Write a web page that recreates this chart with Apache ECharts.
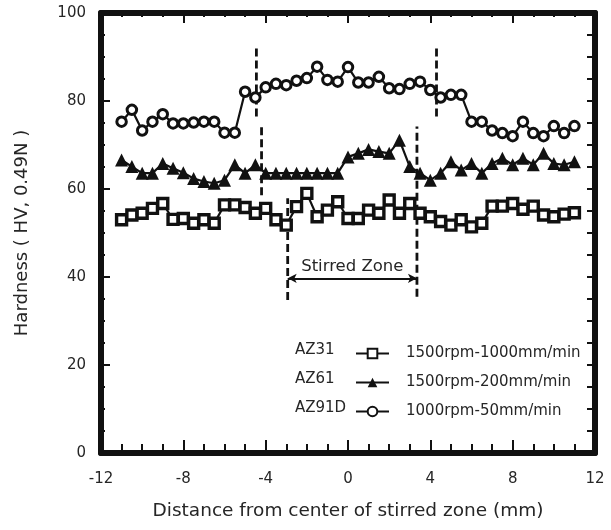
<!DOCTYPE html>
<html>
<head>
<meta charset="utf-8">
<script src="https://cdn.jsdelivr.net/npm/echarts@6/dist/echarts.min.js"></script>
<style>
  html, body { margin: 0; padding: 0; background: #fff; }
  #chart { width: 611px; height: 530px; }
</style>
</head>
<body>
<div id="chart"></div>
<script>
// distance from SZ centre (mm), one reading every 0.5 mm
const distance = [
  -11, -10.5, -10, -9.5, -9, -8.5, -8, -7.5, -7, -6.5, -6, -5.5, -5, -4.5, -4,
  -3.5, -3, -2.5, -2, -1.5, -1, -0.5, 0, 0.5, 1, 1.5, 2, 2.5, 3, 3.5,
  4, 4.5, 5, 5.5, 6, 6.5, 7, 7.5, 8, 8.5, 9, 9.5, 10, 10.5, 11
]

const alloys = ['AZ31', 'AZ61', 'AZ91D']
const conditions = ['1500rpm-1000mm/min', '1500rpm-200mm/min', '1000rpm-50mm/min']

const hvAZ31 = [
  53.0, 54.1, 54.5, 55.6, 56.7, 53.1, 53.3, 52.2, 53.0, 52.2, 56.4, 56.4, 55.8, 54.5, 55.6,
  53.0, 51.8, 56.0, 59.0, 53.7, 55.2, 57.1, 53.3, 53.3, 55.2, 54.5, 57.5, 54.5, 56.7, 54.5,
  53.7, 52.6, 51.8, 53.0, 51.4, 52.2, 56.1, 56.1, 56.7, 55.4, 56.1, 54.1, 53.7, 54.3, 54.6
]
const hvAZ61 = [
  66.6, 65.1, 63.6, 63.6, 65.8, 64.7, 63.7, 62.4, 61.7, 61.3, 62.0, 65.5, 63.6, 65.5, 63.6,
  63.6, 63.6, 63.6, 63.6, 63.6, 63.6, 63.6, 67.3, 68.1, 69.0, 68.5, 68.1, 71.1, 65.1, 63.6,
  62.0, 63.6, 66.2, 64.3, 65.8, 63.6, 65.8, 67.0, 65.5, 67.0, 65.5, 68.1, 65.8, 65.5, 66.2
]
const hvAZ91D = [
  75.3, 78.0, 73.3, 75.3, 77.0, 74.9, 74.9, 75.1, 75.3, 75.3, 72.8, 72.8, 82.1, 80.8, 83.1,
  83.9, 83.6, 84.6, 85.2, 87.8, 84.8, 84.4, 87.7, 84.2, 84.2, 85.5, 82.9, 82.7, 83.9, 84.4,
  82.5, 80.8, 81.4, 81.4, 75.3, 75.3, 73.3, 72.7, 72.0, 75.3, 72.7, 72.0, 74.3, 72.7, 74.3
]

// stirred zone boundaries: [x, yFrom, yTo]
const zoneBounds = [
  [-4.45, 76.5, 92.3],
  [4.3, 76.5, 92.3],
  [-4.2, 58.6, 74.2],
  [3.35, 35.5, 74.2],
  [-2.93, 34.8, 57.9]
]
const zoneArrow = [-2.93, 3.35, 39.7]

const xTicks = ['-12', '-8', '-4', '0', '4', '8', '12']

const font = 'DejaVu Sans, Liberation Sans, sans-serif'
const ink = '#111'
const txt = '#262626'
const pairs = (ys) => distance.map((x, i) => [x, ys[i]])

const symbols = ['rect', 'triangle', 'circle']
const symbolSizes = [10, 13, 9.5]
const fills = ['#fff', ink, '#fff']
const borders = [3.4, 0, 3]
const dataSets = [hvAZ31, hvAZ61, hvAZ91D]

const chart = echarts.init(document.getElementById('chart'))

const hvSeries = alloys.map((name, i) => ({
  name,
  type: 'line',
  data: pairs(dataSets[i]),
  symbol: symbols[i],
  symbolSize: symbolSizes[i],
  showAllSymbol: true,
  lineStyle: { color: ink, width: 2.2 },
  itemStyle: { color: fills[i], borderColor: ink, borderWidth: borders[i] },
  z: 5,
}))

const boundSeries = zoneBounds.map((b, i) => ({
  type: 'line',
  data: [[b[0], b[1]], [b[0], b[2]]],
  symbol: 'none',
  silent: true,
  lineStyle: { color: ink, width: 2.8, type: [8, 4] },
  z: 3,
  markLine: i === 4 ? {
    silent: true,
    symbol: ['arrow', 'arrow'],
    symbolSize: [7, 9],
    lineStyle: { color: ink, width: 2, type: 'solid' },
    label: {
      show: true,
      position: 'insideMiddleTop',
      distance: 3,
      formatter: 'Stirred Zone',
      color: txt,
      fontFamily: font,
      fontSize: 16.5,
    },
    data: [[{ coord: [zoneArrow[0], zoneArrow[2]] }, { coord: [zoneArrow[1], zoneArrow[2]] }]],
  } : undefined,
}))

const frameAxis = {
  axisLine: { show: true, onZero: false, lineStyle: { color: ink, width: 6 } },
  splitLine: { show: false },
}

const option = {
  animation: false,
  backgroundColor: '#fff',
  grid: { left: 101, right: 16, top: 13, bottom: 77 },
  textStyle: { fontFamily: font },
  xAxis: [
    {
      ...frameAxis,
      type: 'value',
      min: -12,
      max: 12,
      interval: 4,
      axisTick: { inside: true, length: 13, lineStyle: { color: ink, width: 2 } },
      minorTick: { show: true, splitNumber: 4, length: 9, lineStyle: { color: ink, width: 2 } },
      axisLabel: {
        color: txt, fontSize: 15, margin: 19, fontFamily: font,
        formatter: (v) => xTicks[(v + 12) / 4],
      },
      name: 'Distance from center of stirred zone (mm)',
      nameLocation: 'middle',
      nameGap: 49,
      nameTextStyle: { color: txt, fontSize: 18.5, fontFamily: font },
    },
    {
      ...frameAxis,
      type: 'value',
      position: 'top',
      min: -12,
      max: 12,
      interval: 4,
      axisTick: { inside: true, length: 10, lineStyle: { color: ink, width: 2 } },
      minorTick: { show: true, splitNumber: 4, length: 4, lineStyle: { color: ink, width: 2 } },
      axisLabel: { show: false },
    },
  ],
  yAxis: [
    {
      ...frameAxis,
      type: 'value',
      min: 0,
      max: 100,
      interval: 20,
      axisTick: { inside: true, length: 9, lineStyle: { color: ink, width: 2 } },
      minorTick: { show: true, splitNumber: 4, length: 4, lineStyle: { color: ink, width: 2 } },
      axisLabel: { color: txt, fontSize: 15, margin: 15, fontFamily: font },
      name: 'Hardness ( HV, 0.49N )',
      nameLocation: 'middle',
      nameGap: 70,
      nameTextStyle: { color: txt, fontSize: 18, fontFamily: font },
    },
    {
      ...frameAxis,
      type: 'value',
      position: 'right',
      min: 0,
      max: 100,
      interval: 20,
      axisTick: { inside: true, length: 8, lineStyle: { color: ink, width: 2 } },
      minorTick: { show: true, splitNumber: 4, length: 8, lineStyle: { color: ink, width: 2 } },
      axisLabel: { show: false },
    },
  ],
  legend: {
    data: alloys,
    orient: 'vertical',
    left: 355,
    top: 346,
    padding: 0,
    itemWidth: 33,
    itemHeight: 12,
    itemGap: 14,
    formatter: (name) => conditions[alloys.indexOf(name)],
    textStyle: { color: txt, fontSize: 15, fontFamily: font, padding: [0, 0, 0, 12] },
  },
  graphic: alloys.map((name, i) => ({
    type: 'text',
    left: 295,
    top: 343 + i * 29,
    style: { text: name, fill: txt, font: `15px ${font}` },
  })),
  series: [...hvSeries, ...boundSeries],
}

chart.setOption(option)
</script>
</body>
</html>
